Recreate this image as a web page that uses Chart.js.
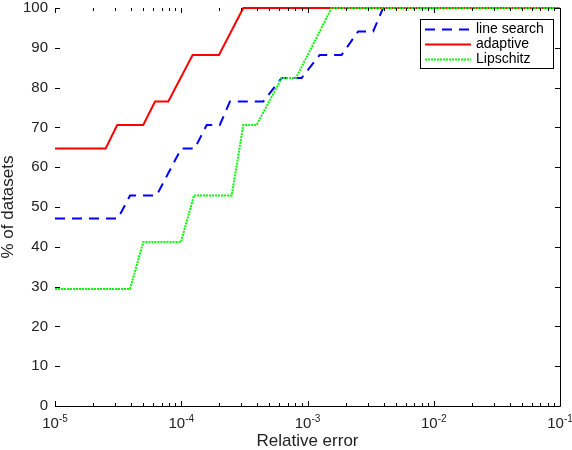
<!DOCTYPE html>
<html>
<head>
<meta charset="utf-8">
<script src="https://cdn.jsdelivr.net/npm/chart.js@4/dist/chart.umd.min.js"></script>
<style>
  html, body { margin: 0; padding: 0; background: #fff; }
  #wrap { width: 572px; height: 450px; }
</style>
</head>
<body>
<div id="wrap"><canvas id="profile" width="572" height="450"></canvas></div>
<script>
// performance profile: share of datasets solved within a given relative error
const seriesNames = ['line search', 'adaptive', 'Lipschitz'];

const lineSearchX = [1e-5, 3.15e-5, 3.93e-5, 6.38e-5, 1.0e-4, 1.28e-4, 1.59e-4, 2.02e-4, 2.43e-4,
                     4.46e-4, 6.24e-4, 8.97e-4, 1.25e-3, 1.86e-3, 2.52e-3, 3.31e-3, 3.97e-3, 0.1];
const lineSearchY = [47.1, 47.1, 52.9, 52.9, 64.7, 64.7, 70.6, 70.6, 76.5,
                     76.5, 82.4, 82.4, 88.2, 88.2, 94.1, 94.1, 100, 100];

const adaptiveX = [1e-5, 2.52e-5, 3.11e-5, 5.0e-5, 6.2e-5, 7.9e-5, 1.23e-4, 1.99e-4, 3.1e-4, 0.1];
const adaptiveY = [64.7, 64.7, 70.6, 70.6, 76.5, 76.5, 88.2, 88.2, 100, 100];

const lipschitzX = [1e-5, 3.93e-5, 5.0e-5, 9.95e-5, 1.26e-4, 2.51e-4, 3.1e-4, 3.95e-4, 6.24e-4, 8.1e-4, 1.55e-3, 0.1];
const lipschitzY = [29.4, 29.4, 41.2, 41.2, 52.9, 52.9, 70.6, 70.6, 82.4, 82.4, 100, 100];

const yTicks = [0, 10, 20, 30, 40, 50, 60, 70, 80, 90, 100];
const xDecades = [-5, -4, -3, -2, -1];

const FONT = '"Liberation Sans", Arial, sans-serif';

function points(xs, ys) {
    return xs.map((x, i) => ({ x: x, y: ys[i] }));
}

// matlab style frame: bottom + right lines, inward ticks, log minor ticks, 10^k labels
const axesFrame = {
    id: 'axesFrame',
    afterDatasetsDraw(chart) {
        const { ctx, chartArea: a, scales: { x, y } } = chart;
        ctx.save();
        ctx.strokeStyle = '#000';
        ctx.lineWidth = 1;
        ctx.beginPath();
        ctx.moveTo(a.left, a.bottom + 0.5);
        ctx.lineTo(a.right + 0.5, a.bottom + 0.5);
        ctx.lineTo(a.right + 0.5, a.top);
        // y ticks, left and right
        yTicks.forEach(v => {
            const py = Math.round(y.getPixelForValue(v)) + 0.5;
            ctx.moveTo(a.left, py); ctx.lineTo(a.left + 5, py);
            ctx.moveTo(a.right, py); ctx.lineTo(a.right - 5, py);
        });
        // x ticks, bottom and top
        xDecades.forEach(k => {
            for (let m = 1; m < 10; m++) {
                const v = m * Math.pow(10, k);
                if (v > x.max * 1.0001) break;
                const px = Math.round(x.getPixelForValue(v)) + 0.5;
                const len = m === 1 ? 5 : 3;
                ctx.moveTo(px, a.bottom); ctx.lineTo(px, a.bottom - len);
                ctx.moveTo(px, a.top); ctx.lineTo(px, a.top + len);
            }
        });
        ctx.stroke();

        // x tick labels with superscript exponent
        ctx.fillStyle = '#222';
        ctx.textBaseline = 'alphabetic';
        ctx.textAlign = 'left';
        xDecades.forEach(k => {
            const px = x.getPixelForValue(Math.pow(10, k));
            ctx.font = '15px ' + FONT;
            const wb = ctx.measureText('10').width;
            ctx.font = '10px ' + FONT;
            const exp = String(k);
            const we = ctx.measureText(exp).width;
            const x0 = px - (wb + we) / 2;
            ctx.font = '15px ' + FONT;
            ctx.fillText('10', x0, a.bottom + 22);
            ctx.font = '10px ' + FONT;
            ctx.fillText(exp, x0 + wb, a.bottom + 16);
        });
        ctx.restore();
    }
};

// boxed legend in the upper right corner
const boxLegend = {
    id: 'boxLegend',
    afterDraw(chart) {
        const ctx = chart.ctx;
        const bx = 420, by = 19, bw = 133, bh = 49;
        ctx.save();
        ctx.fillStyle = '#fff';
        ctx.fillRect(bx, by, bw, bh);
        ctx.strokeStyle = '#000';
        ctx.lineWidth = 1;
        ctx.strokeRect(bx + 0.5, by + 0.5, bw, bh);
        chart.data.datasets.forEach((ds, i) => {
            const ly = by + 10.5 + i * 15;
            ctx.strokeStyle = ds.borderColor;
            ctx.lineWidth = ds.borderWidth;
            ctx.setLineDash(ds.borderDash || []);
            ctx.beginPath();
            ctx.moveTo(bx + 5, ly);
            ctx.lineTo(bx + 51, ly);
            ctx.stroke();
            ctx.setLineDash([]);
            ctx.fillStyle = '#000';
            ctx.font = '14px ' + FONT;
            ctx.textBaseline = 'middle';
            ctx.fillText(ds.label, bx + 56, ly);
        });
        ctx.restore();
    }
};

new Chart(document.getElementById('profile'), {
    type: 'line',
    data: {
        datasets: [
            {
                label: seriesNames[0],
                data: points(lineSearchX, lineSearchY),
                borderColor: '#0000ff',
                borderWidth: 2,
                borderDash: [10, 7],
                order: 3
            },
            {
                label: seriesNames[1],
                data: points(adaptiveX, adaptiveY),
                borderColor: '#ff0000',
                borderWidth: 2,
                order: 2
            },
            {
                label: seriesNames[2],
                data: points(lipschitzX, lipschitzY),
                borderColor: '#00ff00',
                borderWidth: 2,
                borderDash: [2, 1],
                order: 1
            }
        ]
    },
    options: {
        responsive: false,
        animation: false,
        devicePixelRatio: 1,
        layout: { padding: { top: 8, right: 12, left: 0, bottom: 0 } },
        elements: {
            point: { radius: 0 },
            line: { tension: 0, fill: false }
        },
        datasets: { line: { clip: false } },
        plugins: {
            legend: { display: false },
            tooltip: { enabled: false }
        },
        scales: {
            x: {
                type: 'logarithmic',
                min: 1e-5,
                max: 0.1,
                grid: { display: false, drawTicks: false },
                border: { display: false },
                ticks: { display: false },
                title: {
                    display: true,
                    text: 'Relative error',
                    color: '#222',
                    font: { family: FONT, size: 17, lineHeight: 1 },
                    padding: { top: 0, bottom: 0 }
                },
                afterFit: s => { s.height = 44; s.paddingLeft = 0; s.paddingRight = 0; }
            },
            y: {
                min: 0,
                max: 100,
                grid: { display: false, drawTicks: false },
                border: { display: false },
                afterBuildTicks: s => { s.ticks = yTicks.map(v => ({ value: v })); },
                ticks: {
                    color: '#222',
                    padding: 7,
                    font: { family: FONT, size: 15 }
                },
                title: {
                    display: true,
                    text: '% of datasets',
                    color: '#222',
                    font: { family: FONT, size: 17, lineHeight: 1 },
                    padding: { top: 0, bottom: 0 }
                },
                afterFit: s => { s.width = 55; s.paddingTop = 0; s.paddingBottom = 0; }
            }
        }
    },
    plugins: [axesFrame, boxLegend]
});
</script>
</body>
</html>
